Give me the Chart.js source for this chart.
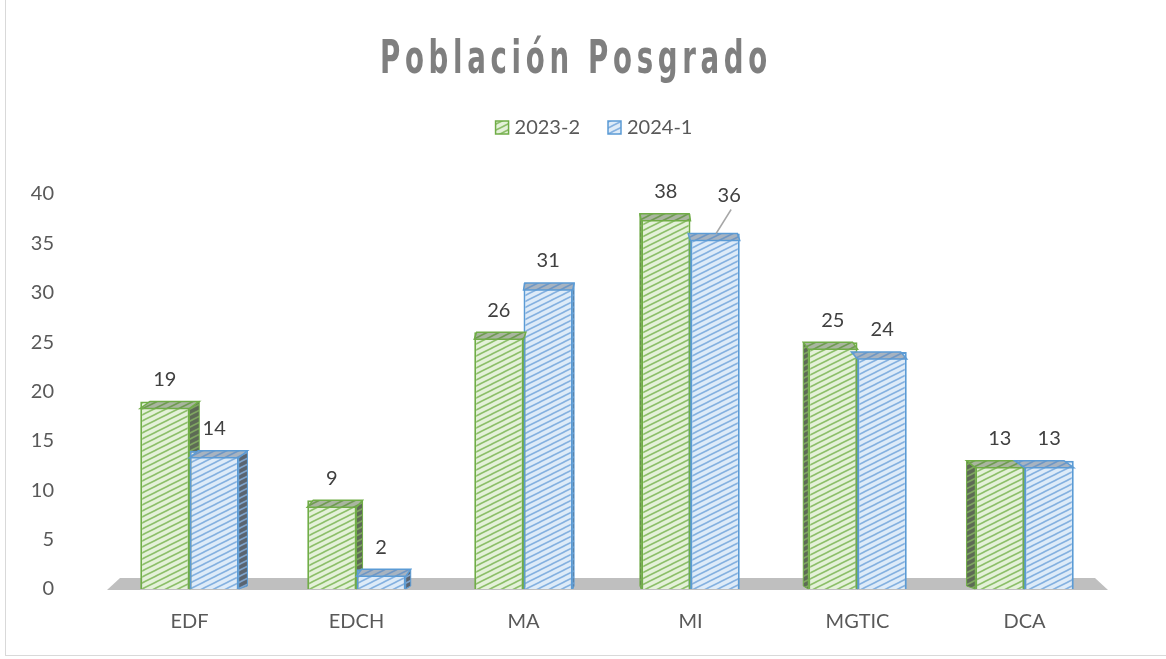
<!DOCTYPE html>
<html>
<head>
<meta charset="utf-8">
<script src="https://cdn.jsdelivr.net/npm/chart.js@4.4.1/dist/chart.umd.min.js"></script>
<style>
  html, body { margin: 0; padding: 0; background: #fff; overflow: hidden; }
  #frame { position: absolute; left: 5px; top: -1px; width: 1170px; height: 655px; border: 1px solid #d9d9d9; }
  #wrap { position: absolute; left: 0; top: 0; width: 1166px; height: 659px; }
</style>
</head>
<body>
<div id="frame"></div>
<div id="wrap"><canvas id="chart" width="1166" height="659"></canvas></div>
<script>
const categories = ['EDF', 'EDCH', 'MA', 'MI', 'MGTIC', 'DCA'];
const seriesNames = ['2023-2', '2024-1'];
const values2023 = [19, 9, 26, 38, 25, 13];
const values2024 = [14, 2, 31, 36, 24, 13];
const yTicks = [0, 5, 10, 15, 20, 25, 30, 35, 40];

const FONT = "Lato, 'Liberation Sans', Arial, sans-serif";
const TXT = 20;

// hatch pattern like Excel "wide upward diagonal"
function hatch(bg, line) {
  const c = document.createElement('canvas');
  c.width = 12; c.height = 6;
  const g = c.getContext('2d');
  g.fillStyle = bg;
  g.fillRect(0, 0, 12, 6);
  g.strokeStyle = line;
  g.lineWidth = 1.6;
  g.beginPath();
  g.moveTo(-12, 12); g.lineTo(12, 0);
  g.moveTo(0, 6); g.lineTo(24, -6);
  g.moveTo(-12, 6); g.lineTo(12, -6);
  g.moveTo(0, 12); g.lineTo(24, 0);
  g.stroke();
  return g.createPattern(c, 'repeat');
}

const greenFront = hatch('#e4f1d9', '#8dbf6a');
const blueFront = hatch('#deebf8', '#85b1e0');
const greenTop = hatch('#a9b59f', '#6f9a52');
const blueTop = hatch('#a7b3c0', '#6f97c4');
const greenSide = hatch('#5d6a55', '#7fa561');
const blueSide = hatch('#5a6470', '#7ea3cc');
const borders = ['#70ad47', '#5b9bd5'];

const depthPlugin = {
  id: 'depth',
  beforeDatasetsDraw(chart) {
    const ctx = chart.ctx;
    const a = chart.chartArea;
    // floor
    ctx.save();
    ctx.fillStyle = '#bfbfbf';
    ctx.beginPath();
    ctx.moveTo(a.left + 14, a.bottom - 11);
    ctx.lineTo(a.right - 13, a.bottom - 11);
    ctx.lineTo(a.right, a.bottom + 1);
    ctx.lineTo(a.left + 1, a.bottom + 1);
    ctx.closePath();
    ctx.fill();
    // side faces
    const mid = (a.left + a.right) / 2;
    chart.data.datasets.forEach((ds, di) => {
      chart.getDatasetMeta(di).data.forEach(bar => {
        const w = bar.width;
        const dx = (mid - bar.x) * 0.022;
        if (Math.abs(dx) < 1) return;
        const edge = dx > 0 ? bar.x + w / 2 : bar.x - w / 2;
        ctx.fillStyle = di === 0 ? greenSide : blueSide;
        ctx.strokeStyle = borders[di];
        ctx.lineWidth = 1;
        ctx.beginPath();
        ctx.moveTo(edge, bar.y + 7);
        ctx.lineTo(edge + dx, bar.y);
        ctx.lineTo(edge + dx, bar.base - 3);
        ctx.lineTo(edge, bar.base);
        ctx.closePath();
        ctx.fill();
        ctx.stroke();
      });
    });
    ctx.restore();
  },
  afterDatasetsDraw(chart) {
    const ctx = chart.ctx;
    const a = chart.chartArea;
    const mid = (a.left + a.right) / 2;
    ctx.save();
    chart.data.datasets.forEach((ds, di) => {
      chart.getDatasetMeta(di).data.forEach(bar => {
        const w = bar.width;
        const dx = (mid - bar.x) * 0.022;
        const x0 = bar.x - w / 2, x1 = bar.x + w / 2;
        ctx.fillStyle = di === 0 ? greenTop : blueTop;
        ctx.strokeStyle = borders[di];
        ctx.lineWidth = 1.5;
        ctx.beginPath();
        ctx.moveTo(x0, bar.y + 7);
        ctx.lineTo(x1, bar.y + 7);
        ctx.lineTo(x1 + dx, bar.y);
        ctx.lineTo(x0 + dx, bar.y);
        ctx.closePath();
        ctx.fill();
        ctx.stroke();
      });
    });
    ctx.restore();
  }
};

// value labels, with a nudge + leader line where Excel moved one
const labelNudge = { '1-3': { dx: 14, dy: -16 } };
const labelPlugin = {
  id: 'labels',
  afterDraw(chart) {
    const ctx = chart.ctx;
    ctx.save();
    ctx.font = TXT + 'px ' + FONT;
    ctx.fillStyle = '#404040';
    ctx.textAlign = 'center';
    ctx.textBaseline = 'middle';
    chart.data.datasets.forEach((ds, di) => {
      chart.getDatasetMeta(di).data.forEach((bar, i) => {
        const n = labelNudge[di + '-' + i];
        let x = bar.x, y = bar.y - 22;
        if (n) {
          x += n.dx; y += n.dy;
          ctx.strokeStyle = '#a6a6a6';
          ctx.lineWidth = 1.5;
          ctx.beginPath();
          ctx.moveTo(x + 2, y + 14);
          ctx.lineTo(bar.x + 1, bar.y);
          ctx.stroke();
        }
        ctx.fillText(String(ds.data[i]), x, y);
      });
    });

    // legend
    ctx.font = TXT + 'px ' + FONT;
    ctx.textAlign = 'left';
    const fills = [greenFront, blueFront];
    const widths = seriesNames.map(s => 13 + 6 + ctx.measureText(s).width);
    const gap = 28;
    let lx = 594 - (widths[0] + widths[1] + gap) / 2;
    seriesNames.forEach((s, i) => {
      ctx.fillStyle = fills[i];
      ctx.fillRect(lx, 121, 13, 13);
      ctx.strokeStyle = borders[i];
      ctx.lineWidth = 1.5;
      ctx.strokeRect(lx, 121, 13, 13);
      ctx.fillStyle = '#595959';
      ctx.fillText(s, lx + 19, 128);
      lx += widths[i] + gap;
    });

    // title (condensed look by squeezing horizontally)
    ctx.font = "bold 46px 'DejaVu Sans Condensed', 'DejaVu Sans', sans-serif";
    ctx.fillStyle = '#7f7f7f';
    ctx.textBaseline = 'alphabetic';
    if ('letterSpacing' in ctx) ctx.letterSpacing = '7px';
    const t = 'Población Posgrado';
    const tw = ctx.measureText(t).width;
    const sx = 392 / tw;
    ctx.translate(380, 73);
    ctx.scale(sx, 1);
    ctx.fillText(t, 0, 0);
    ctx.restore();
  }
};

new Chart(document.getElementById('chart'), {
  type: 'bar',
  data: {
    labels: categories,
    datasets: [
      { label: seriesNames[0], data: values2023, backgroundColor: greenFront, borderColor: borders[0], borderWidth: 2 },
      { label: seriesNames[1], data: values2024, backgroundColor: blueFront, borderColor: borders[1], borderWidth: 2 }
    ]
  },
  options: {
    responsive: false,
    animation: false,
    devicePixelRatio: 1,
    layout: { padding: { top: 194, right: 58, bottom: 12, left: 0 } },
    plugins: {
      title: { display: false },
      tooltip: { enabled: false },
      legend: { display: false }
    },
    datasets: { bar: { categoryPercentage: 0.59, barPercentage: 1 } },
    scales: {
      x: {
        grid: { display: false },
        border: { display: false },
        ticks: { font: { size: TXT, family: FONT }, color: '#595959', padding: 13 }
      },
      y: {
        min: 0, max: 40,
        afterFit: s => { s.width = 106; },
        afterBuildTicks: s => { s.ticks = yTicks.map(v => ({ value: v })); },
        grid: { display: false },
        border: { display: false },
        ticks: { font: { size: TXT, family: FONT }, color: '#595959', padding: 44 }
      }
    }
  },
  plugins: [depthPlugin, labelPlugin]
});
</script>
</body>
</html>
